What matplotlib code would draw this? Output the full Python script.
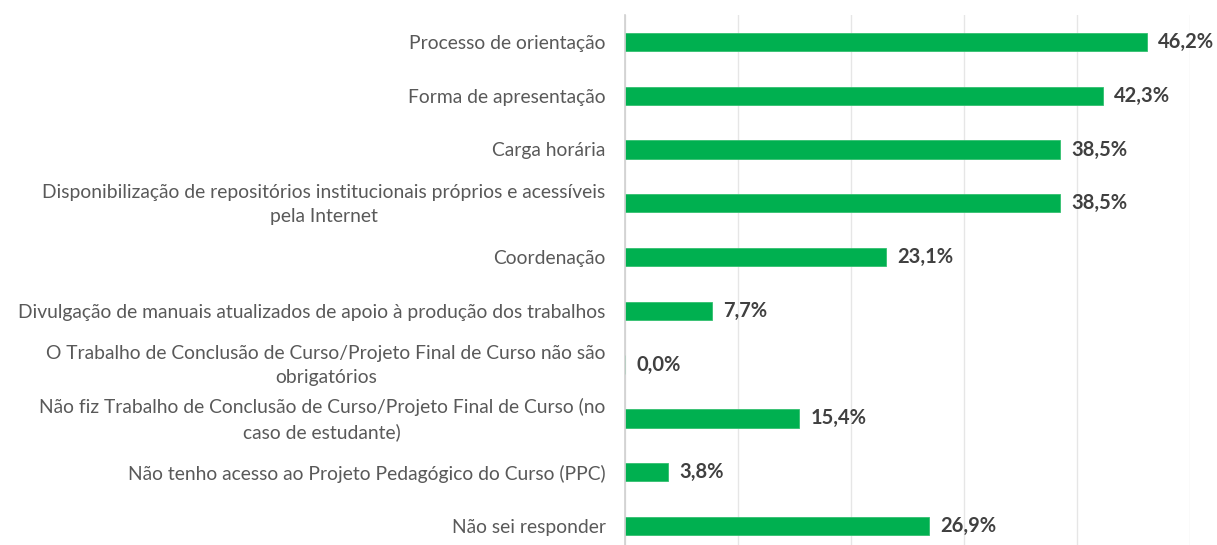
import numpy as np
import matplotlib
matplotlib.use('Agg')
import matplotlib.pyplot as plt
import matplotlib.transforms as mtransforms

# ============================================================
# 数据
# ============================================================
categories = [
    'Processo de orientação',
    'Forma de apresentação',
    'Carga horária',
    'Disponibilização de repositórios institucionais próprios e acessíveis\npela Internet',
    'Coordenação',
    'Divulgação de manuais atualizados de apoio à produção dos trabalhos',
    'O Trabalho de Conclusão de Curso/Projeto Final de Curso não são\nobrigatórios',
    'Não fiz Trabalho de Conclusão de Curso/Projeto Final de Curso (no\ncaso de estudante)',
    'Não tenho acesso ao Projeto Pedagógico do Curso (PPC)',
    'Não sei responder',
]
values = [46.2, 42.3, 38.5, 38.5, 23.1, 7.7, 0.0, 15.4, 3.8, 26.9]
value_labels = ['46,2%', '42,3%', '38,5%', '38,5%', '23,1%', '7,7%', '0,0%', '15,4%', '3,8%', '26,9%']

BAR_COLOR = '#00B050'
TEXT_COLOR = '#595959'
LABEL_COLOR = '#404040'

plt.rcParams['font.family'] = ['Lato', 'DejaVu Sans']

W, H = 1217, 545
fig = plt.figure(figsize=(W / 100, H / 100), dpi=100)
# axes: x from 625 to 1190 px (0..50%), y from 15 to 545 px
ax = fig.add_axes([625 / W, 0, (1190 - 625) / W, (545 - 15) / H])

y = np.arange(len(categories))
ax.barh(y, values, height=0.34, color=BAR_COLOR, edgecolor='#33C070', linewidth=0.6, zorder=3)

ax.set_xlim(0, 50)
ax.set_ylim(9 + (545 - 526) / 53.8, -0.5)

ax.set_xticks([0, 10, 20, 30, 40, 50])
ax.set_xticklabels([])
ax.tick_params(axis='x', length=0)
ax.grid(axis='x', color='#E6E6E6', linewidth=1.0, zorder=0)

ax.set_yticks(y)
ax.set_yticklabels(categories, fontsize=13.9, color=TEXT_COLOR,
                   multialignment='center', linespacing=1.5)
ax.tick_params(axis='y', length=0, pad=14)

# 两行标签稍微上移
shift = mtransforms.ScaledTranslation(0, 3 / 72, fig.dpi_scale_trans)
for t in ax.get_yticklabels():
    if '\n' in t.get_text():
        t.set_transform(t.get_transform() + shift)

for s in ['top', 'right', 'bottom']:
    ax.spines[s].set_visible(False)
ax.spines['left'].set_color('#D0D0D0')
ax.spines['left'].set_linewidth(1.2)
ax.spines['left'].set_zorder(4)

for yi, v, lab in zip(y, values, value_labels):
    ax.text(v + 1.0, yi, lab, va='center', ha='left', fontsize=14.5,
            fontweight='bold', color=LABEL_COLOR)

fig.savefig('out.png', dpi=100, facecolor='white')
